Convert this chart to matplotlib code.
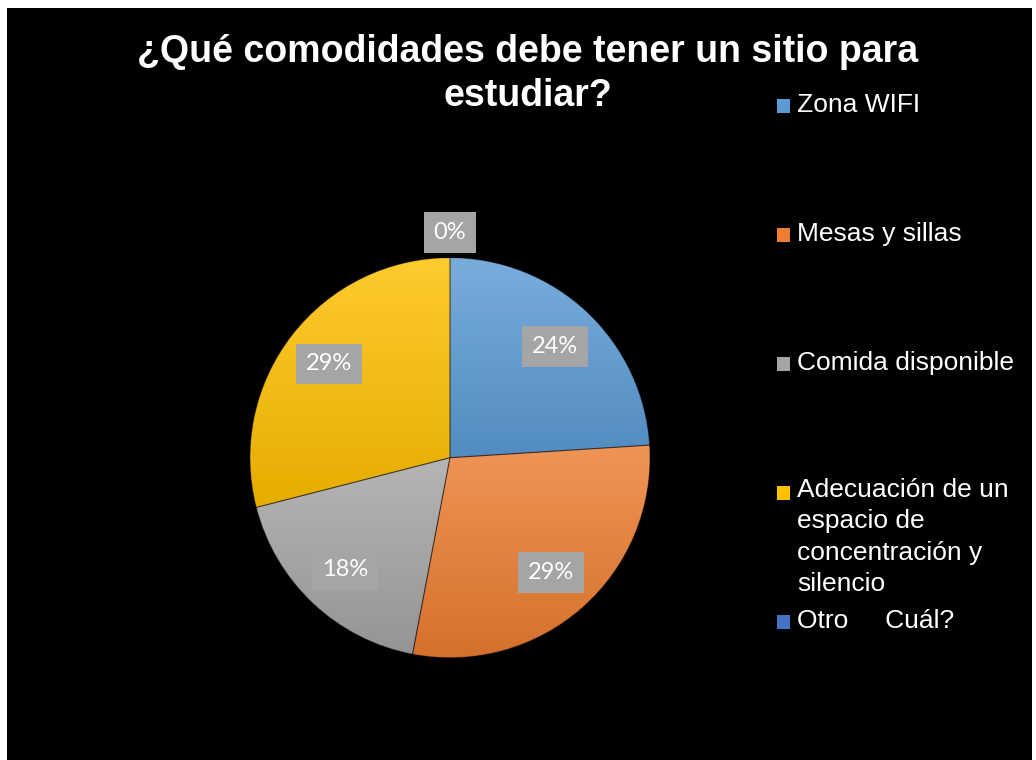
#
# Pie chart - comodidades para estudiar
#

import numpy as np
import matplotlib.pyplot as plt
from matplotlib.colors import to_rgb
from matplotlib.patches import Rectangle

# Data
categorias = ["Zona WIFI", "Mesas y sillas", "Comida disponible",
              "Adecuación de un\nespacio de\nconcentración y\nsilencio",
              "Otro     Cuál?"]
porcentajes = [24, 29, 18, 29, 0]
colores = ["#5B9BD5", "#ED7D31", "#A5A5A5", "#FFC000", "#4472C4"]
titulo = "¿Qué comodidades debe tener un sitio para\nestudiar?"

W, H = 1036, 760


def fx(x):
    return x / W


def fy(y):
    return 1 - y / H


fig = plt.figure(figsize=(W / 100, H / 100), dpi=100, facecolor="white")

# black chart area (white margin on the left, top and right)
fig.add_artist(Rectangle((fx(7), 0), fx(1032) - fx(7), fy(8),
                         facecolor="black", edgecolor="none", zorder=0))

# pie
ax = fig.add_axes([fx(250), fy(657.7), 400 / W, 400 / H])
ax.set_facecolor("none")
wedges, texts, autotexts = ax.pie(
    porcentajes, colors=colores, startangle=90, counterclock=False,
    autopct=lambda p: f"{p:.0f}%", pctdistance=0.765,
    wedgeprops=dict(edgecolor=(0, 0, 0, 0.35), linewidth=0.8),
    textprops=dict(color="white", fontsize=17, family="Lato"))

# vertical gradient inside each slice
t = np.linspace(0, 1, 256)[:, None]
for w, c, v in zip(wedges, colores, porcentajes):
    if v == 0:
        continue
    base = np.array(to_rgb(c))
    claro = base + (1 - base) * 0.18
    oscuro = base * 0.9
    grad = (claro * (1 - t) + oscuro * t)[:, None, :]
    ext = w.get_path().get_extents()
    im = ax.imshow(grad, extent=[ext.x0, ext.x1, ext.y0, ext.y1],
                   origin="upper", aspect="auto", zorder=1,
                   interpolation="bilinear")
    im.set_clip_path(w)
    w.set_facecolor("none")
    w.set_zorder(2)

for w, txt, v in zip(wedges, autotexts, porcentajes):
    txt.set_bbox(dict(boxstyle="square,pad=0.42", facecolor="#A5A5A5",
                      edgecolor="none"))
    txt.set_zorder(3)
    if v == 0:
        ang = np.deg2rad(w.theta1)
        txt.set_position((1.125 * np.cos(ang), 1.125 * np.sin(ang)))

ax.set_xlim(-1, 1)
ax.set_ylim(-1, 1)
ax.axis("off")

# title (baseline of the last line)
fig.text(fx(528), fy(106), titulo, ha="center", va="baseline",
         fontsize=27, fontweight="bold", color="white",
         family="Liberation Sans", linespacing=1.3)

# legend drawn by hand (Excel spreads the entries)
y0, paso, interlinea = 112, 129, 30.7
for i, (cat, c) in enumerate(zip(categorias, colores)):
    yb = y0 + i * paso
    n = cat.count("\n")
    fig.add_artist(Rectangle((fx(777), fy(yb + 1)), 13 / W, 14 / H,
                             facecolor=c, edgecolor="none"))
    fig.text(fx(797), fy(yb + n * interlinea), cat, ha="left", va="baseline",
             fontsize=19, color="white", family="Liberation Sans",
             linespacing=1.39)

fig.savefig("out.png", dpi=100, facecolor="white")
